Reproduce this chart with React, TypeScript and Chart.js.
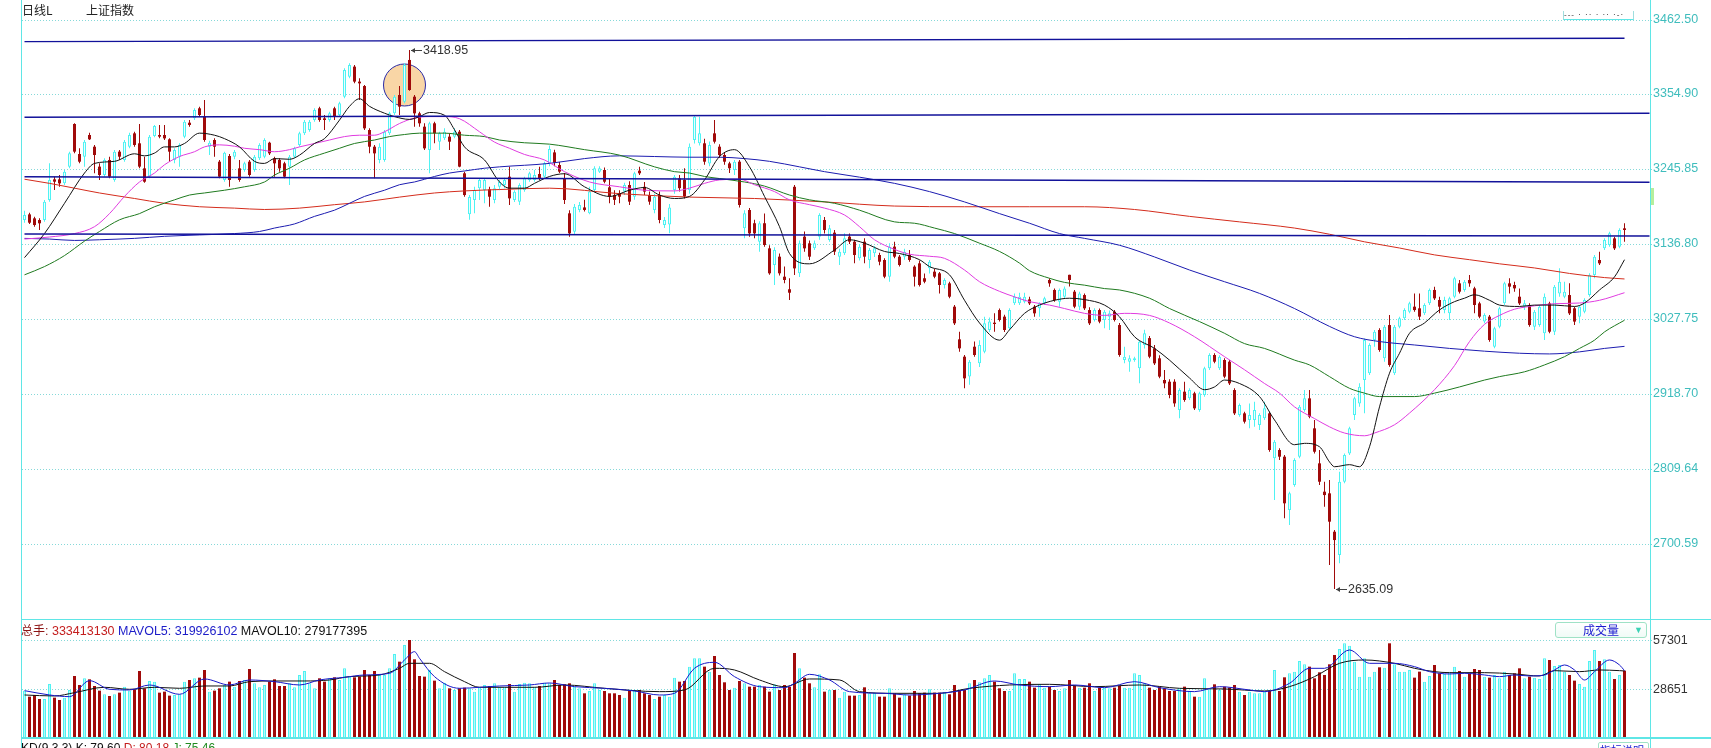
import React, { useEffect, useRef } from "react";
import { Chart, registerables } from "chart.js";

Chart.register(...registerables);

// ---------------- price data (one entry per trading day) ----------------
const openPrices = [
  3171.7,3179.9,3174.1,3171.7,3171.7,3200.8,3230.8,3230.8,3225.0,3249.3,
  3311.3,3267.7,3263.8,3295.3,3278.3,3249.3,3237.1,3259.0,3229.9,3271.1,
  3259.0,3278.3,3297.7,3283.2,3246.8,3234.7,3293.8,3295.3,3295.3,3289.0,
  3259.0,3263.8,3292.9,3313.2,3319.5,3334.1,3322.0,3278.3,3288.0,3256.5,
  3229.9,3264.8,3263.8,3246.8,3244.4,3256.5,3244.4,3261.4,3263.8,3284.1,
  3261.4,3259.0,3254.1,3249.3,3263.8,3280.8,3297.7,3302.6,3317.1,3334.1,
  3319.5,3317.1,3334.1,3324.4,3351.0,3380.1,3394.7,3372.9,3366.5,3302.6,
  3278.3,3259.0,3259.0,3297.7,3326.8,3353.5,3343.8,3404.4,3351.0,3326.8,
  3307.4,3273.5,3312.3,3285.6,3290.4,3292.9,3292.9,3300.1,3239.6,3180.0,
  3200.8,3217.7,3215.3,3216.3,3200.8,3220.2,3222.6,3234.7,3200.8,3198.4,
  3215.3,3229.9,3229.9,3238.6,3234.7,3254.0,3270.0,3251.7,3232.3,3181.4,
  3154.8,3186.3,3190.0,3181.4,3215.3,3242.0,3244.4,3219.2,3208.0,3210.5,
  3213.0,3222.6,3205.6,3243.4,3220.0,3208.0,3186.3,3208.0,3164.4,3165.0,
  3215.3,3232.3,3230.0,3215.3,3288.0,3283.2,3283.2,3254.0,3297.7,3278.3,
  3266.2,3254.0,3244.4,3256.5,3159.6,3186.3,3167.0,3140.2,3167.0,3130.5,
  3106.3,3118.4,3089.3,3071.0,3220.0,3094.2,3147.5,3137.8,3130.5,3147.5,
  3171.7,3142.6,3153.3,3118.4,3123.3,3147.5,3140.2,3116.0,3140.2,3113.6,
  3123.3,3120.8,3113.6,3089.3,3133.0,3118.4,3118.4,3120.8,3103.9,3108.7,
  3087.0,3101.4,3096.6,3094.2,3077.2,3079.6,3045.7,2998.2,2973.0,2944.0,
  2987.5,2963.3,2980.3,3011.8,3022.4,3040.8,3031.2,3014.2,3050.5,3050.5,
  3053.0,3056.3,3045.7,3043.3,3050.5,3084.5,3070.0,3053.0,3060.2,3092.0,
  3067.5,3045.7,3062.6,3040.8,3026.3,3040.8,3026.3,3031.2,3038.4,3019.0,
  2968.2,2965.7,2968.2,2956.0,2990.0,3000.0,2985.1,2970.6,2939.1,2936.6,
  2936.6,2895.4,2922.1,2912.4,2919.7,2895.4,2917.3,2956.0,2975.4,2956.0,
  2968.2,2965.7,2924.5,2888.2,2890.6,2880.9,2880.9,2873.6,2883.3,2890.6,
  2825.2,2837.3,2827.6,2750.0,2786.4,2827.6,2895.4,2912.4,2868.8,2817.9,
  2776.7,2774.3,2718.5,2684.6,2791.2,2832.4,2888.2,2905.1,2939.1,2948.8,
  2997.2,3011.8,2970.6,3019.0,2948.8,3016.6,3028.7,3038.4,3045.7,3043.3,
  3036.0,3050.5,3070.0,3055.4,3040.8,3036.0,3060.2,3079.6,3070.0,3084.5,
  3072.3,3050.5,3024.0,3031.2,2987.5,3016.6,3050.5,3079.6,3077.2,3060.2,
  3045.7,3048.1,3016.6,3019.0,3007.0,3050.5,3009.3,3065.0,3060.2,3062.6,
  3043.3,3031.2,3038.4,3062.6,3091.7,3113.6,3130.5,3135.4,3145.0,3133.0,
  3159.6
];
const highPrices = [
  3185.3,3182.4,3176.5,3174.1,3200.8,3254.1,3234.7,3237.1,3244.4,3271.1,
  3312.3,3275.9,3288.0,3298.7,3280.8,3254.1,3261.4,3263.8,3273.5,3273.5,
  3288.0,3298.7,3300.1,3311.3,3263.8,3295.3,3309.8,3309.8,3309.8,3290.4,
  3275.9,3283.2,3317.1,3317.1,3334.1,3336.5,3346.2,3287.1,3290.4,3259.0,
  3271.1,3267.7,3273.5,3259.0,3256.5,3259.0,3266.2,3283.2,3290.4,3285.6,
  3263.8,3261.4,3256.5,3266.2,3278.3,3300.1,3317.1,3317.1,3334.1,3336.5,
  3324.4,3329.2,3336.5,3343.8,3392.2,3399.5,3397.1,3377.7,3368.0,3305.0,
  3280.8,3283.2,3302.6,3329.2,3353.5,3366.5,3399.5,3418.95,3353.5,3329.2,
  3312.3,3314.7,3314.7,3300.1,3305.0,3297.7,3305.0,3302.6,3242.0,3208.0,
  3220.2,3232.3,3232.3,3220.2,3222.6,3230.0,3233.0,3249.3,3215.0,3225.0,
  3234.7,3242.0,3244.4,3249.3,3256.5,3280.0,3274.0,3256.0,3240.0,3186.0,
  3195.0,3198.0,3201.0,3220.0,3250.0,3250.0,3248.0,3232.3,3215.0,3215.0,
  3226.0,3228.0,3242.0,3249.3,3227.0,3213.0,3210.0,3213.0,3176.0,3195.0,
  3237.0,3237.0,3247.0,3283.0,3324.4,3322.0,3290.0,3286.0,3317.0,3282.0,
  3270.0,3256.5,3259.0,3259.0,3186.0,3189.0,3172.0,3170.0,3181.0,3135.0,
  3132.0,3123.0,3104.0,3087.0,3222.6,3142.0,3155.0,3142.0,3142.0,3181.4,
  3176.0,3164.4,3157.0,3130.0,3152.3,3152.0,3143.0,3137.0,3145.0,3131.0,
  3134.0,3124.0,3116.0,3137.8,3140.0,3121.0,3130.0,3128.0,3106.0,3113.0,
  3094.0,3113.6,3101.0,3096.0,3087.0,3082.0,3048.0,3009.3,2975.4,2968.0,
  2995.0,2997.0,3031.2,3030.0,3036.0,3043.0,3034.0,3043.3,3065.0,3066.0,
  3066.0,3060.0,3048.0,3052.0,3060.0,3087.0,3072.0,3072.3,3075.0,3092.0,
  3070.0,3067.5,3065.0,3045.0,3043.3,3043.0,3041.0,3040.0,3041.0,3022.0,
  2987.5,2975.0,2973.0,2997.2,3012.0,3003.0,2990.0,2975.0,2953.6,2940.0,
  2940.0,2927.0,2936.6,2927.0,2922.0,2922.0,2958.5,2978.0,2978.0,2975.0,
  2970.6,2968.0,2927.0,2905.0,2893.0,2905.0,2907.6,2890.6,2907.6,2893.0,
  2851.8,2839.7,2830.0,2776.7,2825.2,2902.7,2924.5,2924.5,2880.9,2837.3,
  2791.2,2793.7,2721.0,2805.8,2832.4,2871.2,2914.8,2934.2,2999.6,2992.4,
  3011.8,3014.2,3019.0,3033.6,3019.0,3031.2,3043.3,3053.0,3065.0,3065.0,
  3050.5,3072.3,3074.8,3060.0,3060.0,3060.0,3089.3,3084.5,3084.5,3091.7,
  3074.8,3053.0,3036.0,3033.6,3016.6,3045.7,3082.0,3087.0,3082.0,3072.3,
  3055.4,3050.5,3040.8,3048.1,3065.0,3053.0,3077.2,3101.4,3082.0,3079.6,
  3045.7,3048.1,3057.8,3094.2,3120.8,3125.7,3145.0,3154.8,3147.5,3159.6,
  3166.9
];
const lowPrices = [
  3167.8,3165.9,3162.0,3157.2,3169.3,3198.4,3215.3,3220.2,3222.6,3246.8,
  3268.6,3254.1,3249.3,3288.0,3239.6,3229.9,3234.7,3232.3,3227.4,3259.0,
  3256.5,3275.9,3278.3,3246.8,3226.0,3232.3,3291.9,3290.4,3288.0,3256.5,
  3254.1,3249.3,3290.4,3307.4,3317.1,3322.0,3285.6,3266.2,3263.8,3232.3,
  3227.4,3220.2,3260.0,3227.4,3242.0,3234.7,3242.0,3259.0,3261.4,3266.2,
  3234.7,3242.0,3232.3,3222.6,3261.4,3278.3,3295.3,3300.1,3314.7,3314.7,
  3302.6,3314.7,3317.1,3322.0,3348.6,3377.7,3370.4,3346.2,3302.6,3268.6,
  3232.3,3254.1,3256.5,3295.3,3324.4,3324.4,3341.3,3359.8,3307.4,3307.4,
  3273.5,3239.6,3283.2,3273.5,3288.0,3273.5,3290.4,3248.3,3205.6,3172.0,
  3181.4,3200.8,3196.0,3191.1,3196.0,3215.0,3218.0,3193.5,3198.0,3193.5,
  3212.9,3227.4,3227.4,3229.9,3232.3,3250.0,3250.0,3240.0,3195.0,3147.5,
  3150.0,3183.0,3184.0,3180.0,3212.0,3240.0,3225.0,3196.0,3193.5,3196.0,
  3208.0,3193.5,3201.0,3237.0,3208.0,3194.0,3181.4,3167.0,3160.0,3152.3,
  3210.0,3213.0,3203.0,3210.0,3283.0,3280.0,3252.0,3250.0,3283.0,3262.0,
  3252.0,3240.0,3237.0,3190.0,3145.0,3147.5,3145.0,3125.7,3133.0,3092.0,
  3077.2,3091.0,3079.6,3055.4,3091.7,3089.0,3125.7,3113.6,3128.0,3143.0,
  3152.0,3140.2,3121.0,3106.3,3120.8,3137.0,3108.7,3113.0,3108.7,3101.4,
  3118.0,3106.0,3086.9,3082.0,3116.0,3104.0,3114.0,3111.0,3075.0,3075.0,
  3079.6,3094.0,3086.9,3065.0,3072.3,3058.0,3019.0,2980.3,2927.0,2932.0,
  2973.0,2958.0,2978.0,3009.0,3009.3,3024.0,3009.0,3011.8,3048.0,3048.0,
  3050.5,3048.0,3031.2,3031.2,3048.0,3074.8,3053.0,3045.7,3057.8,3075.0,
  3043.3,3041.0,3040.8,3019.0,3024.0,3021.5,3014.2,3011.8,3024.0,2973.0,
  2963.3,2951.2,2965.7,2934.2,2985.0,2970.6,2960.9,2941.5,2927.0,2912.4,
  2900.3,2883.3,2907.6,2910.0,2895.4,2893.0,2914.8,2953.6,2963.3,2953.6,
  2941.5,2931.8,2888.2,2885.8,2876.0,2868.8,2871.2,2866.4,2880.9,2834.8,
  2764.6,2822.8,2738.0,2728.2,2783.9,2825.2,2893.0,2883.3,2832.4,2786.4,
  2754.9,2670.0,2635.09,2672.5,2788.8,2830.0,2880.9,2900.3,2890.6,2946.3,
  2987.5,2980.3,2965.7,2958.5,2946.3,3014.2,3026.3,3036.0,3038.4,3026.3,
  3033.6,3048.1,3055.4,3036.0,3036.0,3026.3,3057.8,3065.0,3067.5,3074.8,
  3036.0,3028.7,3021.5,2994.8,2985.1,3014.2,3048.1,3065.0,3067.5,3048.1,
  3040.8,3016.6,3011.8,3016.6,2997.2,3007.0,3004.5,3060.2,3057.8,3033.6,
  3019.0,3021.5,3036.0,3060.2,3087.0,3106.3,3128.1,3133.0,3128.1,3130.5,
  3140.2
];
const closePrices = [
  3179.0,3167.8,3164.4,3166.9,3198.4,3229.9,3227.4,3225.0,3242.0,3268.6,
  3271.1,3256.5,3285.6,3289.0,3266.2,3237.1,3259.0,3234.7,3271.1,3263.8,
  3285.6,3295.3,3280.8,3249.3,3227.4,3292.9,3308.4,3292.9,3290.4,3271.1,
  3273.5,3280.8,3314.7,3309.8,3331.7,3324.4,3288.0,3284.1,3278.3,3234.7,
  3269.6,3229.9,3271.1,3229.9,3254.1,3237.1,3263.8,3280.8,3288.0,3268.6,
  3254.1,3246.8,3234.7,3263.8,3275.9,3297.7,3314.7,3314.7,3331.7,3317.1,
  3317.1,3326.8,3322.0,3341.3,3389.8,3397.1,3372.9,3370.4,3305.0,3278.3,
  3268.6,3278.3,3300.1,3326.8,3351.0,3336.5,3397.1,3360.7,3326.8,3312.3,
  3275.9,3312.3,3297.7,3297.7,3300.1,3285.6,3300.1,3249.3,3208.0,3205.0,
  3215.3,3229.9,3229.9,3205.6,3217.7,3227.5,3229.9,3203.2,3212.9,3222.6,
  3232.3,3239.6,3237.1,3232.3,3254.1,3275.0,3255.0,3242.0,3200.8,3152.3,
  3191.1,3193.5,3186.3,3213.0,3247.0,3247.0,3227.4,3205.6,3201.0,3205.6,
  3222.6,3198.4,3239.6,3239.6,3213.0,3198.4,3205.6,3171.7,3171.7,3190.0,
  3234.7,3218.0,3206.0,3278.3,3322.0,3297.7,3256.5,3280.8,3285.6,3266.2,
  3256.5,3247.0,3256.5,3193.5,3181.4,3152.3,3152.3,3167.0,3135.4,3094.2,
  3128.1,3094.2,3084.5,3066.0,3101.4,3137.8,3130.5,3118.4,3137.8,3179.0,
  3157.2,3159.6,3125.7,3125.7,3145.0,3140.2,3120.8,3133.0,3118.4,3128.1,
  3130.5,3111.1,3089.3,3133.0,3118.4,3106.3,3125.7,3113.6,3089.3,3077.2,
  3082.0,3111.1,3089.3,3077.2,3084.5,3060.2,3021.5,2985.1,2941.5,2965.7,
  2975.4,2990.0,3021.5,3024.0,3020.5,3026.3,3011.8,3040.8,3060.2,3060.2,
  3060.2,3050.5,3036.0,3050.5,3057.8,3079.6,3055.4,3070.0,3072.3,3084.5,
  3045.7,3065.0,3043.3,3021.5,3040.8,3024.0,3038.4,3036.0,3026.3,2975.4,
  2973.0,2970.6,2970.6,2994.8,3007.0,2973.0,2963.3,2944.0,2934.2,2917.3,
  2905.1,2924.5,2910.0,2924.5,2897.9,2919.7,2956.0,2975.4,2965.7,2973.0,
  2944.0,2934.2,2890.6,2902.7,2878.5,2888.2,2895.4,2888.2,2897.9,2837.3,
  2849.4,2827.6,2759.8,2774.3,2822.8,2900.3,2912.4,2885.8,2834.8,2791.2,
  2771.8,2733.1,2706.4,2791.2,2830.0,2868.8,2912.4,2929.4,2997.2,2990.0,
  3009.3,2982.7,3016.6,2960.9,3016.6,3028.7,3040.8,3050.5,3040.8,3031.2,
  3048.1,3070.0,3057.8,3045.7,3055.4,3057.8,3087.0,3067.5,3082.0,3079.6,
  3048.1,3031.2,3033.6,2997.2,3014.2,3043.3,3079.6,3074.8,3072.3,3050.5,
  3050.5,3019.0,3038.4,3045.7,3060.2,3009.3,3074.8,3082.0,3067.5,3036.0,
  3024.0,3045.7,3055.4,3091.7,3118.4,3108.7,3142.6,3152.3,3130.5,3157.2,
  3157.2
];
const volumes = [
  27888,24355,25336,22981,22981,31814,23766,22392,23766,28281,
  36526,31225,35151,34562,30636,27888,25729,24747,25729,26711,
  30244,27888,28674,39470,29263,33581,33189,26711,27300,24944,
  25336,25729,33189,34170,35151,35544,40059,27300,27888,29263,
  31225,33189,30244,33581,34170,40648,32207,29851,31225,33189,
  34562,30636,30636,32207,29851,37115,39470,32207,29263,35151,
  33189,35151,35740,34170,41041,36133,35740,36133,40059,37115,
  39470,37115,37115,41041,49481,44966,54781,57726,46341,36526,
  36133,40059,33777,29263,32600,29263,28281,29263,29655,29263,
  27300,29851,31225,30636,32207,29851,29851,31814,27300,31814,
  32600,32207,29851,30636,32600,32205,34167,31223,31616,32205,
  30242,29260,26316,27690,32205,28279,27690,26316,26316,25334,
  23763,28082,28279,28279,26316,25334,22978,24352,25334,24352,
  35542,33186,33579,42020,46927,46927,42020,39075,48301,37112,
  32793,28279,29653,33579,32205,30242,30242,31223,30242,27297,
  31616,28279,31223,30242,50068,41038,35542,32205,29850,37504,
  27297,28279,28279,23763,27297,24941,24941,25334,29850,26316,
  26708,24352,24352,29260,26316,23763,25727,24941,27690,26316,
  26708,28671,26708,26708,27297,25727,31223,28279,28279,32205,
  34167,32793,35149,37112,33186,29260,27690,27690,38094,34757,
  34757,33186,29653,31616,29653,30242,28279,27690,29260,34167,
  30831,29653,29653,32205,27690,29653,29653,29260,29653,30635,
  29653,29653,38094,37112,32205,29653,28279,30242,29260,27690,
  27690,29260,30242,27690,24352,24352,35149,28671,31616,28279,
  30242,29653,31223,27297,25334,27297,26316,26316,27297,27690,
  40057,27690,35738,38094,39075,45357,43394,42020,35149,38683,
  37112,43394,48890,52424,55760,54386,44964,36131,46927,36131,
  39075,41627,41430,55760,43394,39077,39077,40059,35544,39077,
  33189,36526,43003,38096,37703,39077,42022,39470,36133,38096,
  40648,40059,36133,35544,37115,35151,39077,37115,38096,41041,
  35151,36133,35544,34759,46930,45948,42415,43003,39077,37115,
  33777,31814,30244,45359,51837,45359,46341,39077,34759,37115,
  39666
];

// ---------------- moving averages: [day index, value] ----------------
const maBlackPoints = [
  [0,3117],[4,3152],[8,3196],[12,3240],[14,3254],[18,3257],[22,3268],[24,3265],[26,3269],[28,3278],
  [30,3278],[32,3283],[35,3298],[38,3295],[40,3290],[43,3278],[46,3257],[48,3254],[50,3261],[53,3260],
  [55,3266],[58,3283],[60,3290],[63,3317],[65,3337],[67,3348],[69,3337],[72,3327],[74,3322],[77,3318],
  [79,3322],[81,3328],[84,3324],[86,3303],[88,3278],[92,3259],[95,3227],[97,3218],[100,3218],[102,3225],
  [105,3235],[108,3239],[112,3220],[117,3206],[121,3215],[124,3219],[127,3208],[130,3203],[133,3206],[136,3230],
  [139,3264],[142,3274],[145,3249],[148,3206],[151,3162],[153,3123],[157,3108],[162,3128],[165,3143],[168,3138],
  [172,3126],[175,3123],[179,3114],[181,3104],[185,3092],[188,3055],[191,3022],[195,2997],[197,3012],[200,3036],
  [203,3048],[206,3055],[209,3058],[212,3056],[216,3048],[219,3031],[222,3002],[226,2985],[229,2968],[233,2942],
  [236,2925],[238,2929],[240,2939],[243,2934],[247,2915],[250,2881],[254,2845],[256,2847],[259,2842],[261,2820],
  [262,2813],[265,2816],[267,2813],[269,2842],[271,2900],[273,2949],[275,2978],[277,3007],[280,3022],[283,3041],
  [286,3053],[288,3058],[290,3063],[293,3055],[295,3048],[299,3046],[302,3048],[306,3048],[310,3046],[312,3051],
  [315,3070],[318,3089],[320,3114]
];
const maMagentaPoints = [
  [0,3144],[5,3147],[10,3152],[14,3162],[17,3181],[20,3206],[23,3227],[26,3240],[28,3252],[31,3264],
  [34,3271],[36,3278],[39,3281],[42,3279],[44,3276],[47,3274],[50,3271],[53,3274],[55,3278],[58,3283],
  [61,3288],[64,3293],[67,3295],[70,3295],[72,3300],[75,3312],[78,3320],[81,3322],[84,3322],[87,3319],
  [91,3300],[94,3285],[97,3276],[100,3267],[104,3259],[108,3242],[113,3227],[119,3220],[124,3215],[130,3214],
  [133,3218],[136,3225],[139,3230],[143,3231],[146,3223],[150,3213],[153,3201],[157,3194],[160,3189],[164,3179],
  [167,3162],[170,3143],[174,3129],[177,3122],[181,3119],[184,3116],[188,3099],[191,3082],[195,3068],[198,3060],
  [201,3053],[205,3048],[208,3043],[212,3036],[216,3033],[220,3036],[225,3033],[229,3022],[234,3002],[240,2973],
  [244,2954],[248,2934],[251,2920],[254,2900],[258,2883],[261,2871],[264,2862],[268,2858],[270,2862],[274,2874],
  [277,2891],[282,2925],[286,2960],[289,2995],[292,3020],[295,3033],[298,3042],[301,3046],[306,3050],[311,3051],
  [315,3055],[320,3066]
];
const maGreenPoints = [
  [0,3092],[4,3104],[8,3120],[12,3141],[15,3155],[19,3172],[23,3181],[26,3191],[30,3201],[33,3208],
  [36,3211],[40,3215],[44,3220],[48,3227],[50,3237],[53,3247],[56,3259],[60,3269],[63,3276],[66,3283],
  [70,3288],[73,3293],[76,3296],[79,3298],[84,3298],[88,3295],[92,3293],[95,3288],[100,3284],[105,3282],
  [112,3274],[119,3266],[126,3249],[130,3242],[133,3240],[136,3235],[139,3232],[144,3227],[148,3221],[153,3208],
  [157,3201],[162,3196],[167,3186],[174,3169],[178,3167],[182,3160],[186,3152],[191,3138],[195,3126],[199,3109],
  [201,3098],[205,3087],[208,3081],[212,3077],[216,3072],[219,3070],[225,3058],[229,3043],[235,3024],[240,3007],
  [244,2992],[248,2985],[254,2968],[257,2961],[261,2944],[265,2927],[268,2920],[271,2915],[278,2915],[282,2920],
  [287,2929],[292,2939],[295,2944],[300,2951],[304,2961],[308,2973],[311,2985],[314,2997],[316,3009],[320,3026]
];
const maBluePoints = [
  [0,3145],[5,3144],[10,3142],[15,3143],[22,3145],[28,3148],[35,3150],[42,3152],[47,3155],[50,3160],
  [54,3166],[58,3177],[62,3186],[65,3196],[68,3206],[72,3215],[75,3223],[78,3227],[82,3235],[85,3240],
  [88,3243],[92,3247],[95,3249],[105,3254],[112,3261],[119,3265],[126,3264],[133,3263],[139,3263],[144,3261],
  [149,3257],[155,3249],[160,3242],[167,3234],[174,3225],[181,3213],[188,3198],[195,3181],[201,3167],[207,3152],
  [212,3145],[219,3135],[226,3118],[233,3099],[240,3082],[247,3065],[254,3043],[261,3017],[266,3002],[271,2995],
  [278,2990],[285,2985],[292,2981],[299,2978],[305,2977],[311,2980],[316,2985],[320,2988]
];
const maRedPoints = [
  [0,3231],[5,3225],[10,3218],[15,3211],[22,3203],[28,3196],[35,3191],[42,3189],[48,3187],[55,3189],
  [62,3194],[68,3198],[75,3205],[82,3211],[88,3214],[95,3216],[105,3218],[119,3210],[133,3205],[146,3203],
  [160,3198],[174,3192],[188,3191],[201,3191],[212,3191],[222,3187],[233,3177],[243,3169],[254,3160],[261,3151],
  [268,3140],[275,3131],[282,3121],[289,3114],[295,3108],[302,3102],[309,3094],[316,3088],[320,3086]
];

// drawn support / resistance lines: [day index, price] at each end
const trendLineA = [[0,3431],[320,3436]];
const trendLineB = [[0,3321],[325,3327]];
const trendLineC = [[0,3234.7],[325,3226.5]];
const trendLineD = [[0,3151.3],[325,3148.4]];

// volume moving averages: [day index, value]
const mavol5Points = [
  [0,27888],[5,25336],[9,24355],[13,33777],[17,28674],[21,28281],[25,31225],[31,25729],[36,34759],[41,31225],
  [45,34170],[50,33189],[55,31225],[59,34170],[64,35740],[68,37115],[73,38096],[76,45948],[78,50855],[79,46930],
  [82,36133],[87,29263],[91,29851],[95,30636],[101,31225],[105,32400],[110,30242],[116,29260],[122,27690],[127,25334],
  [130,26316],[134,41038],[138,44571],[142,36131],[147,30242],[152,29653],[154,32205],[157,37504],[161,34167],[165,27297],
  [172,26316],[177,25334],[183,26316],[188,28279],[194,33579],[199,31223],[205,30242],[210,31223],[216,29653],[222,33186],
  [227,29653],[234,27297],[239,30242],[245,28279],[248,27297],[253,32205],[257,41038],[260,41038],[265,51835],[269,43983],
  [274,43983],[278,42022],[281,39077],[285,37703],[288,38096],[292,37115],[295,36133],[298,37115],[301,36526],[304,37115],
  [306,40059],[308,43003],[310,40059],[312,34170],[314,39077],[317,45948],[319,43003],[320,39666]
];
const mavol10Points = [
  [0,25336],[6,24747],[10,26711],[16,29851],[21,28674],[26,29851],[31,29263],[36,30636],[41,30636],[45,33189],
  [50,33581],[56,33581],[61,34170],[65,36133],[71,37115],[75,41041],[77,43985],[81,43985],[84,39077],[88,33189],
  [91,29851],[96,29851],[102,29851],[108,31225],[116,29260],[127,27297],[132,28279],[138,41038],[142,40057],[147,34167],
  [152,30242],[157,34757],[163,34167],[167,27297],[174,26316],[183,26316],[189,29260],[197,31223],[205,31616],[214,30242],
  [223,31223],[231,29260],[240,28868],[248,27690],[253,30242],[258,36131],[263,43983],[268,45946],[274,43983],[278,41041],
  [282,39077],[285,38489],[292,38489],[298,37703],[303,36526],[306,39666],[311,39077],[315,40059],[319,39666],[320,39470]
];

// axes
const priceTicks = [3462.5, 3354.9, 3245.85, 3136.8, 3027.75, 2918.7, 2809.64, 2700.59];
const priceMin = 2591.6;
const priceMax = 3462.5;
const volumeTicks = [57301, 28651];
const volumeMax = 58891;

// highlighted area around the peak: [day index, price]
const circleCenter = [76, 3368];

// header texts
const periodLabel = "日线L";
const indexName = "上证指数";
const totalHands = "333413130";
const mavol5Text = "319926102";
const mavol10Text = "279177395";

const SLOT_COUNT = 326;
const CYAN = "#4ff3f3";
const DARK_RED = "#a00a0a";
const GRID = "#86d9d9";
const FRAME = "#5fe6e6";
const TREND = "#12129a";
const NUM_FONT = '"Liberation Sans", Arial, sans-serif';
const CJK_FONT = '"Noto Sans CJK SC", "Noto Sans", sans-serif';

const slotLabels = Array.from({ length: SLOT_COUNT }, (_, i) => String(i));

function sparse(points: number[][]) {
  const arr: (number | null)[] = new Array(SLOT_COUNT).fill(null);
  for (const [i, v] of points) arr[i] = v;
  return arr;
}

function lineSet(points: number[][], color: string, order: number, smooth = true, width = 1) {
  return {
    type: "line" as const,
    data: sparse(points),
    borderColor: color,
    borderWidth: width,
    pointRadius: 0,
    spanGaps: true,
    fill: false,
    cubicInterpolationMode: smooth ? ("monotone" as const) : ("default" as const),
    tension: 0,
    order,
  };
}

const isUp = (i: number) => closePrices[i] >= openPrices[i];

export default function App() {
  const mainRef = useRef<HTMLCanvasElement>(null);
  const volRef = useRef<HTMLCanvasElement>(null);

  useEffect(() => {
    let hiIdx = 0;
    let loIdx = 0;
    highPrices.forEach((h, i) => { if (h > highPrices[hiIdx]) hiIdx = i; });
    lowPrices.forEach((l, i) => { if (l < lowPrices[loIdx]) loIdx = i; });

    const marks = {
      id: "marks",
      beforeDatasetsDraw(chart: any) {
        const { ctx, scales } = chart;
        const cx = scales.x.getPixelForValue(circleCenter[0]);
        const cy = scales.y.getPixelForValue(circleCenter[1]);
        ctx.save();
        ctx.beginPath();
        ctx.arc(cx, cy, 21, 0, Math.PI * 2);
        ctx.fillStyle = "#f9d6a6";
        ctx.fill();
        ctx.lineWidth = 1;
        ctx.strokeStyle = "#2a2aa6";
        ctx.stroke();
        ctx.restore();
      },
      afterDatasetsDraw(chart: any) {
        const { ctx, scales } = chart;
        const draw = (idx: number, val: number) => {
          const px = Math.round(scales.x.getPixelForValue(idx));
          const py = Math.round(scales.y.getPixelForValue(val)) + 0.5;
          ctx.save();
          ctx.strokeStyle = "#404040";
          ctx.fillStyle = "#404040";
          ctx.lineWidth = 1;
          ctx.beginPath();
          ctx.moveTo(px + 1, py);
          ctx.lineTo(px + 12, py);
          ctx.stroke();
          ctx.beginPath();
          ctx.moveTo(px + 1, py);
          ctx.lineTo(px + 5, py - 2.5);
          ctx.lineTo(px + 5, py + 2.5);
          ctx.closePath();
          ctx.fill();
          ctx.font = `12.5px ${NUM_FONT}`;
          ctx.textBaseline = "middle";
          ctx.textAlign = "left";
          ctx.fillStyle = "#333";
          ctx.fillText(val.toFixed(2), px + 13, py + 0.5);
          ctx.restore();
        };
        draw(hiIdx, highPrices[hiIdx]);
        draw(loIdx, lowPrices[loIdx]);
      },
    };

    const main = new Chart(mainRef.current as HTMLCanvasElement, {
      type: "bar",
      data: {
        labels: slotLabels,
        datasets: [
          lineSet(trendLineA, TREND, 1, false, 1.4),
          lineSet(trendLineB, TREND, 1, false, 1.4),
          lineSet(trendLineC, TREND, 1, false, 1.4),
          lineSet(trendLineD, TREND, 1, false, 1.4),
          lineSet(maBlackPoints, "#111111", 2),
          lineSet(maMagentaPoints, "#e03ce0", 3),
          lineSet(maGreenPoints, "#1f7a1f", 3),
          lineSet(maBluePoints, "#1c1cb0", 3),
          lineSet(maRedPoints, "#d42c1c", 3),
          {
            type: "bar" as const,
            data: openPrices.map((o, i) => [o, closePrices[i]]) as any,
            barThickness: 3,
            grouped: false,
            minBarLength: 1,
            inflateAmount: 0,
            borderSkipped: false,
            backgroundColor: (c: any) => (isUp(c.dataIndex) ? "#eafefe" : DARK_RED),
            borderColor: (c: any) => (isUp(c.dataIndex) ? CYAN : DARK_RED),
            borderWidth: (c: any) => (isUp(c.dataIndex) ? 1 : 0),
            order: 9,
          } as any,
          {
            type: "bar" as const,
            data: lowPrices.map((l, i) => [l, highPrices[i]]) as any,
            barThickness: 1,
            grouped: false,
            inflateAmount: 0,
            borderWidth: 0,
            backgroundColor: (c: any) => (isUp(c.dataIndex) ? CYAN : DARK_RED),
            order: 10,
          } as any,
        ],
      },
      options: {
        responsive: false,
        animation: false,
        devicePixelRatio: 1,
        events: [],
        layout: { padding: { left: 22, top: 20, right: 0, bottom: 21 } },
        plugins: { legend: { display: false }, tooltip: { enabled: false } },
        scales: {
          x: { type: "category", display: false, offset: true, grid: { display: false } },
          y: {
            position: "right",
            min: priceMin,
            max: priceMax,
            afterBuildTicks: (s: any) => { s.ticks = priceTicks.map((v) => ({ value: v })); },
            afterFit: (s: any) => { s.width = 59; },
            ticks: {
              autoSkip: false,
              padding: 1,
              color: "#3fbdbd",
              font: { family: NUM_FONT, size: 12.5 },
              callback: (v: any) => Number(v).toFixed(2),
            },
            grid: { color: GRID, lineWidth: 1, drawTicks: false },
            border: { display: false, dash: [1, 2] },
          },
        },
      } as any,
      plugins: [marks],
    });

    const vol = new Chart(volRef.current as HTMLCanvasElement, {
      type: "bar",
      data: {
        labels: slotLabels,
        datasets: [
          lineSet(mavol5Points, "#1818c8", 1),
          lineSet(mavol10Points, "#111111", 2),
          {
            type: "bar" as const,
            data: volumes,
            barThickness: 3,
            grouped: false,
            inflateAmount: 0,
            borderSkipped: false,
            backgroundColor: (c: any) => (isUp(c.dataIndex) ? "#b9f6f6" : DARK_RED),
            borderColor: (c: any) => (isUp(c.dataIndex) ? CYAN : DARK_RED),
            borderWidth: (c: any) => (isUp(c.dataIndex) ? 1 : 0),
            order: 9,
          } as any,
        ],
      },
      options: {
        responsive: false,
        animation: false,
        devicePixelRatio: 1,
        events: [],
        layout: { padding: { left: 22, top: 18, right: 0, bottom: 10 } },
        plugins: { legend: { display: false }, tooltip: { enabled: false } },
        scales: {
          x: { type: "category", display: false, offset: true, grid: { display: false } },
          y: {
            position: "right",
            min: 0,
            max: volumeMax,
            afterBuildTicks: (s: any) => { s.ticks = volumeTicks.map((v) => ({ value: v })); },
            afterFit: (s: any) => { s.width = 59; },
            ticks: {
              autoSkip: false,
              padding: 1,
              color: "#333333",
              font: { family: NUM_FONT, size: 12.5 },
              callback: (v: any) => String(v),
            },
            grid: { color: GRID, lineWidth: 1, drawTicks: false },
            border: { display: false, dash: [1, 2] },
          },
        },
      } as any,
    });

    return () => {
      main.destroy();
      vol.destroy();
    };
  }, []);

  const abs = (s: React.CSSProperties): React.CSSProperties => ({ position: "absolute", ...s });

  return (
    <div style={abs({ left: 0, top: 0, width: 1711, height: 748, background: "#fff", overflow: "hidden", fontFamily: NUM_FONT })}>
      <canvas ref={mainRef} width={1711} height={640} style={abs({ left: 0, top: 0 })} />
      <canvas ref={volRef} width={1711} height={128} style={abs({ left: 0, top: 620 })} />

      {/* frame */}
      <div style={abs({ left: 21, top: 0, width: 1, height: 748, background: FRAME })} />
      <div style={abs({ left: 1650, top: 0, width: 1, height: 748, background: FRAME })} />
      <div style={abs({ left: 21, top: 619, width: 1690, height: 1, background: FRAME })} />
      <div style={abs({ left: 21, top: 737, width: 1690, height: 2, background: FRAME })} />
      <div style={abs({ left: 1651, top: 188, width: 3, height: 17, background: "#b6ee9c" })} />

      {/* top-right mini toolbar */}
      <div style={abs({ left: 1563, top: 11, width: 69, height: 8, borderLeft: "1px solid #9fdede", borderRight: "1px solid #9fdede", borderBottom: "1px solid " + FRAME, fontSize: 8, lineHeight: "8px", color: "#333", letterSpacing: 1, whiteSpace: "nowrap", overflow: "hidden" })}>
        {"--- · ·· · ·· ·-·"}
      </div>

      {/* title */}
      <div style={abs({ left: 22, top: 3, fontFamily: CJK_FONT, fontSize: 12, lineHeight: "14px", color: "#222", whiteSpace: "nowrap" })}>{periodLabel}</div>
      <div style={abs({ left: 86, top: 3, fontFamily: CJK_FONT, fontSize: 12, lineHeight: "14px", color: "#222", whiteSpace: "nowrap" })}>{indexName}</div>

      {/* volume header */}
      <div style={abs({ left: 21, top: 623, fontSize: 12.5, lineHeight: "14px", whiteSpace: "nowrap" })}>
        <span style={{ color: "#8c1414", fontFamily: CJK_FONT, fontSize: 12 }}>总手</span>
        <span style={{ color: "#8c1414" }}>: </span>
        <span style={{ color: "#c41e1e" }}>{totalHands}</span>
        <span style={{ color: "#1c1cc8" }}> MAVOL5: {mavol5Text}</span>
        <span style={{ color: "#111" }}> MAVOL10: {mavol10Text}</span>
      </div>
      <div style={abs({ left: 1555, top: 622, width: 90, height: 14, border: "1px solid #9fe2c6", borderRadius: 3, background: "linear-gradient(#ffffff, #f0fbf6)" })}>
        <span style={abs({ left: 27, top: 0, fontFamily: CJK_FONT, fontSize: 12, lineHeight: "14px", color: "#1a1ad0", whiteSpace: "nowrap" })}>成交量</span>
        <span style={abs({ left: 78, top: 0, fontSize: 9, lineHeight: "14px", color: "#3cd2b4" })}>▼</span>
      </div>

      {/* bottom indicator row (cut off) */}
      <div style={abs({ left: 21, top: 741, fontSize: 12, lineHeight: "14px", whiteSpace: "nowrap" })}>
        <span style={{ color: "#111" }}>KD(9,3,3) K: 79.60 </span>
        <span style={{ color: "#c41e1e" }}>D: 80.18 </span>
        <span style={{ color: "#1f8a1f" }}>J: 75.46</span>
      </div>
      <div style={abs({ left: 1598, top: 742, width: 49, height: 14, border: "1px solid #9fe2c6", borderRadius: 2, background: "#fff" })}>
        <span style={abs({ left: 1, top: 0, fontFamily: CJK_FONT, fontSize: 11, lineHeight: "14px", color: "#1a1ad0", whiteSpace: "nowrap" })}>指标说明</span>
      </div>
    </div>
  );
}
